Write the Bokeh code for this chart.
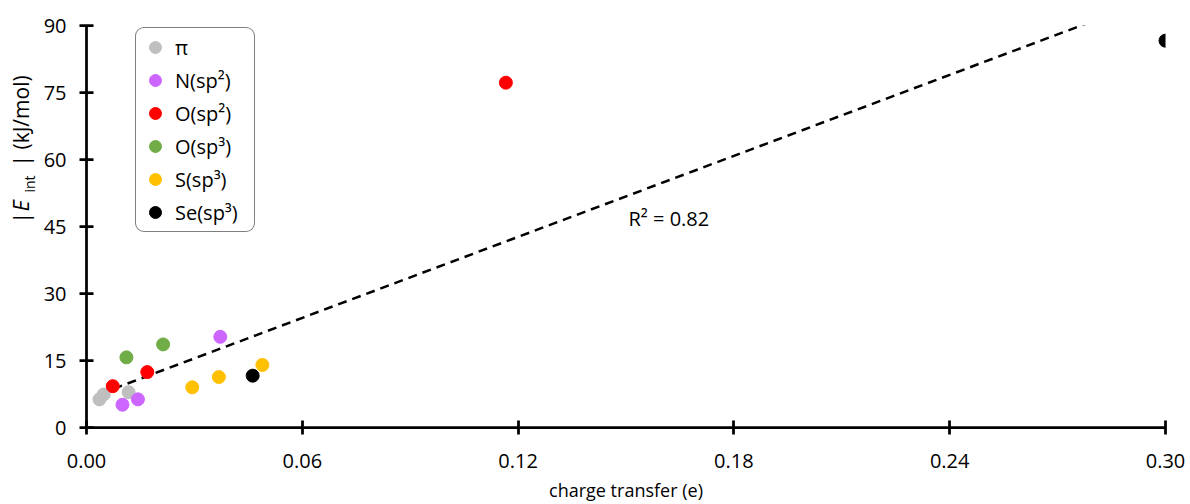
import numpy as np
from math import pi
from bokeh.plotting import figure
from bokeh.layouts import row
from bokeh.models import Range1d, FixedTicker, NumeralTickFormatter, Label, Legend, LegendItem
from bokeh.embed import file_html
from bokeh.resources import INLINE

# ---- data ----
group_names = ["π", "N(sp²)", "O(sp²)", "O(sp³)", "S(sp³)", "Se(sp³)"]
group_colors = ["#BFBFBF", "#CC66FF", "#FF0000", "#70AD47", "#FFC000", "#000000"]
pi_x = [0.0036, 0.0048, 0.0117]
pi_y = [6.3, 7.4, 7.9]
n_x = [0.0100, 0.0143, 0.0372]
n_y = [5.1, 6.3, 20.3]
o2_x = [0.0073, 0.0169, 0.1166]
o2_y = [9.25, 12.4, 77.2]
o3_x = [0.0111, 0.0213]
o3_y = [15.7, 18.6]
s_x = [0.0294, 0.0368, 0.0489]
s_y = [9.0, 11.3, 14.0]
se_x = [0.0462, 0.300]
se_y = [11.6, 86.6]
x_ticks = [0.0, 0.06, 0.12, 0.18, 0.24, 0.30]
y_ticks = [0, 15, 30, 45, 60, 75, 90]
x_label = "charge transfer (e)"
r2_text = "R² = 0.82"
r2_pos = (0.1507, 46.8)

series_x = [pi_x, n_x, o2_x, o3_x, s_x, se_x]
series_y = [pi_y, n_y, o2_y, o3_y, s_y, se_y]

FONT = "Open Sans"
H = 504
LAB_W = 40

p = figure(width=1185 - LAB_W, height=H, output_backend="svg", toolbar_location=None,
           x_range=Range1d(0, 0.30), y_range=Range1d(0, 90),
           min_border_left=85 - LAB_W, min_border_right=20, min_border_top=25, min_border_bottom=77)
p.outline_line_color = None
p.xgrid.visible = False
p.ygrid.visible = False

for ax in (p.xaxis[0], p.yaxis[0]):
    ax.axis_line_width = 2.75
    ax.axis_line_color = "black"
    ax.major_tick_line_width = 2.75
    ax.major_tick_line_color = "black"
    ax.major_tick_in = 7
    ax.major_tick_out = 7
    ax.minor_tick_line_color = None
    ax.major_label_text_font = FONT
    ax.major_label_text_font_size = "20px"
    ax.major_label_text_color = "black"

p.xaxis.ticker = FixedTicker(ticks=x_ticks)
p.yaxis.ticker = FixedTicker(ticks=y_ticks)
p.xaxis.formatter = NumeralTickFormatter(format="0.00")
p.xaxis.major_label_standoff = 19
p.yaxis.major_label_standoff = 13
p.xaxis.axis_label = x_label
p.xaxis.axis_label_text_font = FONT
p.xaxis.axis_label_text_font_size = "18px"
p.xaxis.axis_label_text_font_style = "normal"
p.xaxis.axis_label_text_color = "black"
p.xaxis.axis_label_standoff = 7

# trendline: linear least squares through all points
all_x = np.concatenate([np.asarray(v, float) for v in series_x])
all_y = np.concatenate([np.asarray(v, float) for v in series_y])
slope, intercept = np.polyfit(all_x, all_y, 1)
tx = np.array([all_x.min(), all_x.max()])
p.line(tx, slope * tx + intercept, line_color="black", line_width=2.5, line_dash="9 6")

items = []
for name, col, xs, ys in zip(group_names, group_colors, series_x, series_y):
    r = p.scatter(xs, ys, size=13, fill_color=col, line_color=col)
    items.append(LegendItem(label=name, renderers=[r]))

legend = Legend(items=items, location=(49, 195), padding=4, spacing=3,
                glyph_width=30, glyph_height=30, label_standoff=5, label_width=75,
                label_text_font=FONT, label_text_font_size="20px", label_text_color="black",
                border_line_color="black", border_line_width=1.5, background_fill_alpha=1.0,
                margin=0)
if "border_radius" in Legend.properties():
    legend.border_radius = 9
p.add_layout(legend, "center")

p.add_layout(Label(x=r2_pos[0], y=r2_pos[1], text=r2_text, text_font=FONT,
                   text_font_size="20px", text_baseline="middle", text_align="left",
                   text_color="black"))

# y-axis title in its own narrow panel: |E_int| (kJ/mol)
lab = figure(width=LAB_W, height=H, output_backend="svg", toolbar_location=None,
             x_range=Range1d(0, LAB_W), y_range=Range1d(0, H), min_border=0,
             x_axis_location=None, y_axis_location=None)
lab.outline_line_color = None
lab.grid.visible = False
pieces = [
    # text, page-y of text start (bottom), page-x of the text's lower edge, style, size
    ("|", 300, 34, "normal", "21px"),
    ("E", 288, 34, "italic", "22px"),
    ("int", 269, 38, "normal", "14px"),
    ("| (kJ/mol)", 243, 34, "normal", "21px"),
]
for txt, py, px, style, fs in pieces:
    lab.add_layout(Label(x=px, y=H - py, x_units="screen", y_units="screen", text=txt,
                         angle=pi / 2, text_align="left", text_baseline="bottom",
                         text_font=FONT, text_font_size=fs, text_font_style=style,
                         text_color="black"))

layout = row(lab, p)
open("out.html", "w").write(file_html(layout, INLINE))
